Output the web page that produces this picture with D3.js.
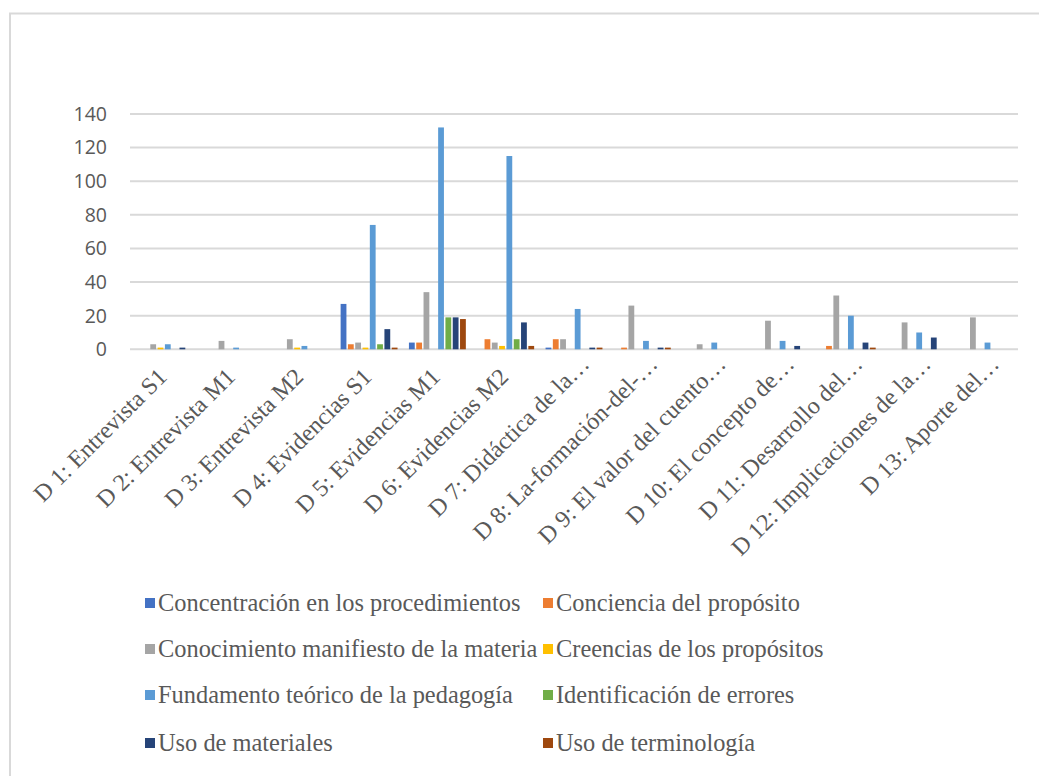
<!DOCTYPE html>
<html>
<head>
<meta charset="utf-8">
<script src="https://cdn.jsdelivr.net/npm/d3@7"></script>
<style>
  html, body { margin: 0; padding: 0; background: #fff; }
  svg { display: block; }
</style>
</head>
<body>
<script>
const categories = [
  "D 1: Entrevista S1", "D 2: Entrevista M1", "D 3: Entrevista M2",
  "D 4: Evidencias S1", "D 5: Evidencias M1", "D 6: Evidencias M2",
  "D 7: Didáctica de la…", "D 8: La-formación-del-…", "D 9: El valor del cuento…",
  "D 10: El concepto de…", "D 11: Desarrollo del…", "D 12: Implicaciones de la…",
  "D 13: Aporte del…"
];

const seriesNames = [
  "Concentración en los procedimientos", "Conciencia del propósito",
  "Conocimiento manifiesto de la materia", "Creencias de los propósitos",
  "Fundamento teórico de la pedagogía", "Identificación de errores",
  "Uso de materiales", "Uso de terminología"
];

const concentracion  = [0, 0, 0, 27, 4, 0, 1, 0, 0, 0, 0, 0, 0];
const conciencia     = [0, 0, 0, 3, 4, 6, 6, 1, 0, 0, 2, 0, 0];
const conocimiento   = [3, 5, 6, 4, 34, 4, 6, 26, 3, 17, 32, 16, 19];
const creencias      = [1, 0, 1, 1, 0, 2, 0, 0, 0, 0, 0, 0, 0];
const fundamento     = [3, 1, 2, 74, 132, 115, 24, 5, 4, 5, 20, 10, 4];
const identificacion = [0, 0, 0, 3, 19, 6, 0, 0, 0, 0, 0, 0, 0];
const materiales     = [1, 0, 0, 12, 19, 16, 1, 1, 0, 2, 4, 7, 0];
const terminologia   = [0, 0, 0, 1, 18, 2, 1, 1, 0, 0, 1, 0, 0];

const yTicks = [0, 20, 40, 60, 80, 100, 120, 140];

const seriesValues = [concentracion, conciencia, conocimiento, creencias,
  fundamento, identificacion, materiales, terminologia];
const colors = ["#4472C4", "#ED7D31", "#A5A5A5", "#FFC000",
  "#5B9BD5", "#70AD47", "#264478", "#9E480E"];

const width = 1039, height = 776;
const plot = { left: 130, right: 1018, top: 114, bottom: 349.3 };
const textColor = "#595959";
const serif = "'Liberation Serif', 'Times New Roman', serif";

const svg = d3.select("body").append("svg")
  .attr("width", width)
  .attr("height", height);

// chart frame (only top and left edges visible)
svg.append("path")
  .attr("d", `M10,${height} L10,13.5 L${width},13.5`)
  .attr("fill", "none")
  .attr("stroke", "#d9d9d9")
  .attr("stroke-width", 2);

const x0 = d3.scaleBand()
  .domain(categories)
  .range([plot.left, plot.right])
  .paddingInner(0.145)
  .paddingOuter(0.0725);

const x1 = d3.scaleBand()
  .domain(d3.range(seriesNames.length))
  .range([0, x0.bandwidth()]);

const y = d3.scaleLinear()
  .domain([0, 140])
  .range([plot.bottom, plot.top]);

// gridlines
svg.append("g")
  .selectAll("line")
  .data(yTicks)
  .join("line")
  .attr("x1", plot.left)
  .attr("x2", plot.right)
  .attr("y1", d => y(d))
  .attr("y2", d => y(d))
  .attr("stroke", "#d9d9d9")
  .attr("stroke-width", 2);

// y axis labels
svg.append("g")
  .selectAll("text")
  .data(yTicks)
  .join("text")
  .attr("x", 107)
  .attr("y", d => y(d))
  .attr("dy", "0.35em")
  .attr("text-anchor", "end")
  .attr("fill", textColor)
  .style("font-family", "'Open Sans', 'Noto Sans', sans-serif")
  .style("font-size", "19.5px")
  .text(d => d);

// bars
const barGap = 1.5;
svg.append("g")
  .selectAll("g")
  .data(categories)
  .join("g")
  .attr("transform", d => `translate(${x0(d)},0)`)
  .selectAll("rect")
  .data((d, ci) => seriesValues.map((vals, si) => ({ si, v: vals[ci] })).filter(e => e.v > 0))
  .join("rect")
  .attr("x", d => x1(d.si) + barGap / 2)
  .attr("width", x1.bandwidth() - barGap)
  .attr("y", d => y(d.v))
  .attr("height", d => y(0) - y(d.v))
  .attr("fill", d => colors[d.si]);

// category labels, rotated (truncated ones sit a little further out, like in Excel)
svg.append("g")
  .selectAll("text")
  .data(categories)
  .join("text")
  .attr("transform", d => `translate(${x0(d) + x0.bandwidth() / 2 + 4},${plot.bottom + 29}) rotate(-45)`)
  .attr("dx", d => d.endsWith("…") ? 18 : 0)
  .attr("text-anchor", "end")
  .attr("fill", textColor)
  .style("font-family", serif)
  .style("font-size", "24px")
  .text(d => d);

// legend
const legendCols = [145, 543];
const legendRows = [603, 649, 695, 743];
const legend = svg.append("g")
  .selectAll("g")
  .data(seriesNames)
  .join("g")
  .attr("transform", (d, i) => `translate(${legendCols[i % 2]},${legendRows[Math.floor(i / 2)]})`);

legend.append("rect")
  .attr("x", 0)
  .attr("y", -5)
  .attr("width", 10)
  .attr("height", 10)
  .attr("fill", (d, i) => colors[i]);

legend.append("text")
  .attr("x", 13)
  .attr("dy", "0.33em")
  .attr("fill", textColor)
  .style("font-family", serif)
  .style("font-size", "24.4px")
  .text(d => d);
</script>
</body>
</html>
